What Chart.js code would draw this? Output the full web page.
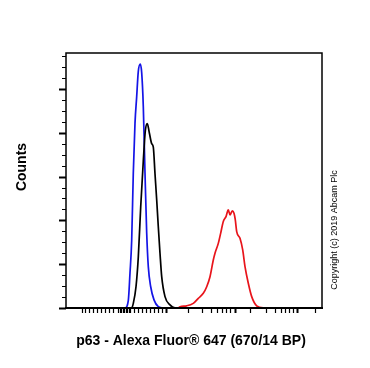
<!DOCTYPE html>
<html>
<head>
<meta charset="utf-8">
<script src="https://cdn.jsdelivr.net/npm/chart.js@4.4.1/dist/chart.umd.min.js"></script>
<style>
body { margin: 0; background: #fff; }
#wrap { width: 370px; height: 368px; }
</style>
</head>
<body>
<div id="wrap"><canvas id="graph" width="370" height="368"></canvas></div>
<script>
// channel (display scale 0-256) and counts
const blueChannels = [0, 59, 62.3, 64, 65.7, 67.3, 69, 70.7, 72.3, 74.3, 75.7, 77.3, 79, 80.7, 82.3, 84.7, 88, 92.3, 97.3, 256];
const blueCounts   = [0, 0, 3.4, 16, 31, 61.6, 84.4, 96.6, 108, 111.3, 107.3, 92, 61.6, 34.2, 18.9, 9.7, 3.7, 0.6, 0, 0];

const blackChannels = [0, 65.7, 67.3, 70, 72.3, 74.7, 77.3, 79.3, 81.3, 83.3, 85.7, 87.3, 89, 90.7, 92.3, 94, 95.7, 99, 104, 109, 256];
const blackCounts   = [0, 0, 2.1, 9.7, 23.3, 46.1, 67.1, 80.8, 84.2, 80, 75, 73.4, 61.3, 49.3, 37.1, 25, 14.3, 5.2, 1.4, 0.1, 0];

const redChannels = [0, 112, 114, 120.7, 127.3, 132.3, 137.3, 140.7, 144, 147.3, 149, 152.3, 154.7, 157.3, 160, 162.3, 164, 166.3, 168, 169.3, 170.7, 174, 176.7, 179, 182.3, 185.7, 190.7, 197.3, 256];
const redCounts   = [0, 0, 0.6, 1, 2.1, 4.4, 6.7, 9.7, 14.3, 21.9, 25, 29.5, 34.2, 39.5, 41.7, 44.8, 42.5, 44.3, 43.2, 40.2, 34.9, 31.8, 26.5, 18.9, 11.3, 5.2, 1, 0.1, 0];

// x axis tick marks (biexponential display, no labels)
const xTicks = [15.7, 19, 23, 27, 31, 35, 39, 43, 47.3,
  52, 53.5, 55, 56.5, 58, 59.5, 61, 62.5, 64,
  68, 72, 76, 80, 84, 88, 92, 95.7, 100,
  121.7, 135.7, 145, 150.7, 155.7, 159.7, 164, 169,
  184, 199.7, 209, 214.7, 219.3, 223.3, 227.3, 230.7, 249];
const xBoldTicks = [100, 169, 230.7];

const yMax = 116.4;
const yMajorStep = 20;
const yMinorStep = 5;

const xTitle = 'p63 - Alexa Fluor® 647 (670/14 BP)';
const yTitle = 'Counts';
const copyright = 'Copyright (c) 2019 Abcam Plc';

function pts(xs, ys) {
    return xs.map((x, i) => ({ x: x, y: ys[i] }));
}

const decorations = {
    id: 'decorations',
    afterDraw(c) {
        const ctx = c.ctx, a = c.chartArea;
        const xs = c.scales.x, ys = c.scales.y;
        ctx.save();
        ctx.strokeStyle = '#000';

        // frame
        ctx.lineWidth = 1.5;
        ctx.strokeRect(a.left, a.top, a.right - a.left, a.bottom - a.top);
        ctx.lineWidth = 2;
        ctx.beginPath();
        ctx.moveTo(a.left - 1, a.bottom);
        ctx.lineTo(a.right + 1, a.bottom);
        ctx.stroke();

        // y ticks
        for (let v = 0; v <= yMax; v += yMinorStep) {
            const y = Math.round(ys.getPixelForValue(v)) + 0.5;
            const major = v % yMajorStep === 0;
            ctx.lineWidth = major ? 2 : 1;
            ctx.beginPath();
            ctx.moveTo(a.left - (major ? 7 : 4), y);
            ctx.lineTo(a.left, y);
            ctx.stroke();
        }

        // x ticks
        xTicks.forEach(t => {
            const x = Math.round(xs.getPixelForValue(t)) + 0.5;
            ctx.lineWidth = xBoldTicks.includes(t) ? 2 : 1.2;
            ctx.beginPath();
            ctx.moveTo(x, a.bottom);
            ctx.lineTo(x, a.bottom + 5);
            ctx.stroke();
        });

        // texts
        ctx.fillStyle = '#000';
        ctx.textAlign = 'center';
        ctx.textBaseline = 'middle';
        ctx.font = 'bold 14px "Liberation Sans", Arial, sans-serif';
        ctx.fillText(xTitle, 191, 341);

        ctx.save();
        ctx.translate(22, 167);
        ctx.rotate(-Math.PI / 2);
        ctx.fillText(yTitle, 0, 0);
        ctx.restore();

        ctx.save();
        ctx.font = '9px "Liberation Sans", Arial, sans-serif';
        ctx.translate(335, 230);
        ctx.rotate(-Math.PI / 2);
        ctx.fillText(copyright, 0, 0);
        ctx.restore();

        ctx.restore();
    }
};

const graph = document.getElementById('graph');
let chart = new Chart(graph, {
    type: 'line',
    data: {
        datasets: [
            { label: 'red', data: pts(redChannels, redCounts), borderColor: '#e8141b' },
            { label: 'black', data: pts(blackChannels, blackCounts), borderColor: '#000000' },
            { label: 'blue', data: pts(blueChannels, blueCounts), borderColor: '#1414e6' }
        ]
    },
    options: {
        responsive: false,
        animation: false,
        layout: { padding: { left: 66, right: 48, top: 53, bottom: 60 } },
        elements: {
            point: { radius: 0 },
            line: { borderWidth: 1.7, cubicInterpolationMode: 'monotone', fill: false }
        },
        plugins: {
            legend: { display: false },
            tooltip: { enabled: false }
        },
        scales: {
            x: { type: 'linear', min: 0, max: 256, display: false },
            y: { type: 'linear', min: 0, max: yMax, display: false }
        }
    },
    plugins: [decorations]
});
</script>
</body>
</html>
